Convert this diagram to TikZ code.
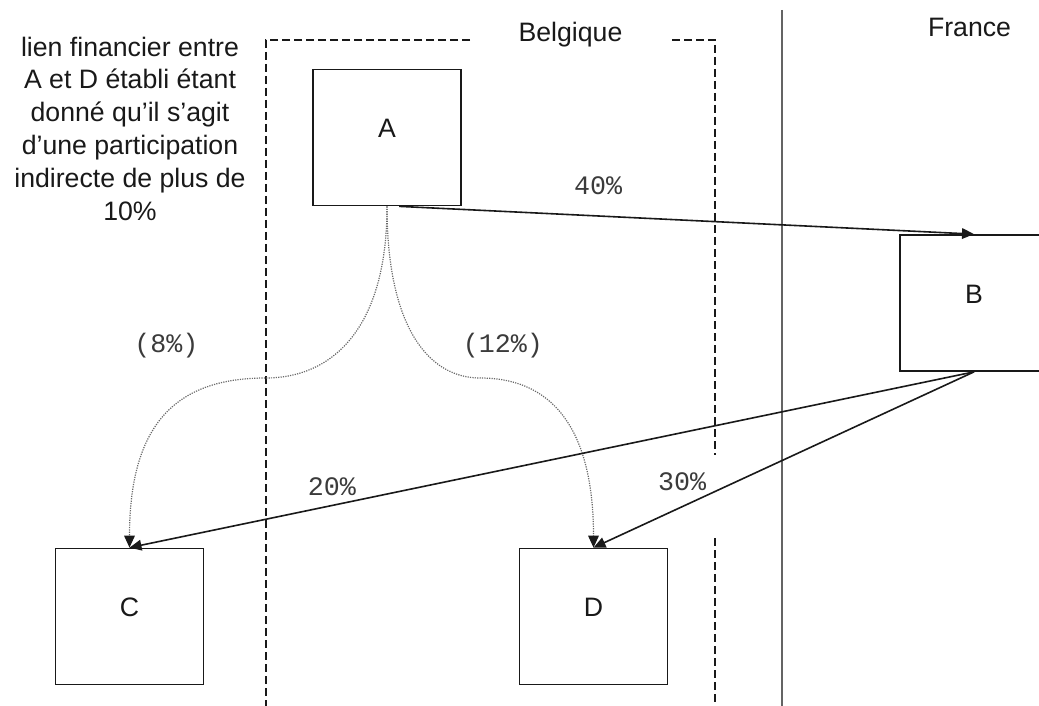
\documentclass[tikz,border=0pt]{standalone}
\usepackage{fontspec}
\setmainfont{Liberation Sans}
\setmonofont{Liberation Mono}
\usetikzlibrary{arrows.meta}
\definecolor{ink}{RGB}{25,25,25}
\definecolor{muted}{RGB}{105,105,105}
\definecolor{frontierline}{RGB}{100,100,100}
\tikzset{
    company/.style={
        rectangle,
        draw=ink,
        line width=1.3pt,
        fill=white,
        minimum width=111pt,
        minimum height=102pt,
        text depth=13.5pt,
        font=\fontsize{20}{24}\selectfont,
        text=ink
    },
    stake/.style={
        -{Triangle[length=9pt,width=8pt]},
        draw=ink,
        line width=1.2pt
    },
    indirect/.style={
        -{Triangle[length=9pt,width=8pt,color=ink]},
        draw=muted,
        dash pattern=on 0.9pt off 0.9pt,
        line width=0.9pt
    },
    zone/.style={
        draw=ink,
        dash pattern=on 6pt off 3pt,
        line width=1.1pt
    },
    frontier/.style={
        draw=frontierline,
        line width=1.1pt
    },
    pct/.style={
        font=\ttfamily\fontsize{20}{24}\selectfont,
        text=ink!85,
        anchor=base,
        inner sep=0pt
    },
    country/.style={
        font=\fontsize{20}{24}\selectfont,
        text=ink,
        anchor=base,
        inner sep=0pt
    },
    note/.style={
        font=\fontsize{20}{24.6}\selectfont,
        text=ink,
        align=center,
        inner sep=0pt
    }
}

\begin{document}
\begin{tikzpicture}[x=0.75pt, y=-0.75pt]

\useasboundingbox (0,0) rectangle (1039,706);
\clip (0,0) rectangle (1039,706);

% --- Borders ---
% Belgium (dashed, open at the label and near D)
\draw[zone] (470,40) -- (266,40) -- (266,710);
\draw[zone] (672,40) -- (715,40) -- (715,455);
\draw[zone] (715,538) -- (715,710);
% Frontier with France
\draw[frontier] (782,10) -- (782,710);

\node[country] (belgique) at (570.5,42) {Belgique};
\node[country] (france) at (969.5,37) {France};

% --- Remark ---
\node[note, anchor=north] (remark) at (130,36.5)
    {lien financier entre\\A et D établi étant\\donné qu’il s’agit\\d’une participation\\indirecte de plus de\\10\%};

% --- Companies ---
\node[company] (A) at (387,137.5) {A};
\node[company] (B) at (974,303) {B};
\node[company] (C) at (129.5,616.5) {C};
\node[company] (D) at (593.5,616.5) {D};

% --- Indirect stakes (dotted) ---
\coordinate (bendC) at (266,378);
\coordinate (bendD) at (480,378);
\draw[indirect] (A.south) .. controls +(0,125) and +(64,0) .. (bendC)
    .. controls +(-86,0) and +(0,-128) .. (C.north);
\draw[indirect] (A.south) .. controls +(0,123) and +(-50,0) .. (bendD)
    .. controls +(80,0) and +(0,-108) .. (D.north);

% --- Direct stakes ---
\draw[stake] (A.-80) -- (B.north);
\draw[stake] (B.south) -- (C.north);
\draw[stake] (B.south) -- (D.north);

% Percentages
\node[pct] (p40) at (598,195) {40\%};
\node[pct] (p8) at (166.5,352) {(8\%)};
\node[pct] (p12) at (503,352) {(12\%)};
\node[pct] (p20) at (332,495) {20\%};
\node[pct] (p30) at (682,490) {30\%};

\end{tikzpicture}
\end{document}
